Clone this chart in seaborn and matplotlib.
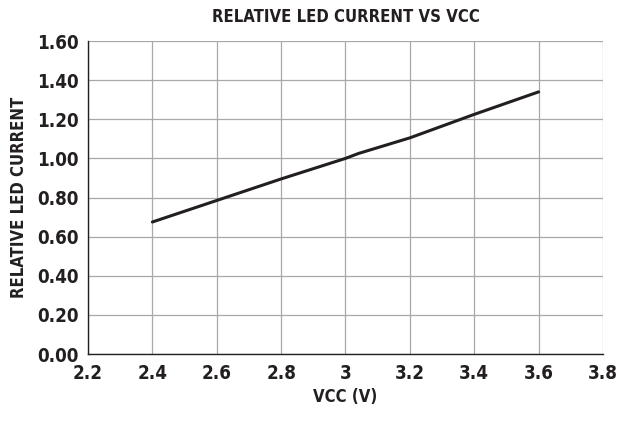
import matplotlib
matplotlib.use("Agg")
import matplotlib.pyplot as plt
import seaborn as sns
import pandas as pd

# values
vcc = [2.4, 2.6, 2.8, 3.0, 3.04, 3.08, 3.2, 3.4, 3.6]
rel_current = [0.675, 0.785, 0.895, 1.0, 1.025, 1.045, 1.105, 1.225, 1.34]
x_ticks = [2.2, 2.4, 2.6, 2.8, 3.0, 3.2, 3.4, 3.6, 3.8]
x_labels = ["2.2", "2.4", "2.6", "2.8", "3", "3.2", "3.4", "3.6", "3.8"]
y_ticks = [0.0, 0.2, 0.4, 0.6, 0.8, 1.0, 1.2, 1.4, 1.6]

sns.set_style("white")
plt.rcParams['font.family'] = ['DejaVu Sans']
plt.rcParams['font.stretch'] = 'condensed'
plt.rcParams['font.weight'] = 'bold'
plt.rcParams['text.color'] = '#231f20'
plt.rcParams['axes.labelcolor'] = '#231f20'
plt.rcParams['xtick.color'] = '#231f20'
plt.rcParams['ytick.color'] = '#231f20'

df = pd.DataFrame({"vcc": vcc, "cur": rel_current})

fig, ax = plt.subplots(figsize=(6.21, 4.21), dpi=100)
sns.lineplot(data=df, x="vcc", y="cur", color="#231f20", linewidth=2.2, ax=ax)

ax.set_xlim(2.2, 3.8)
ax.set_ylim(0, 1.6)
ax.set_xticks(x_ticks)
ax.set_xticklabels(x_labels)
ax.set_yticks(y_ticks)
ax.set_yticklabels(["%.2f" % v for v in y_ticks])
ax.grid(True, color="#a8a8a8", linewidth=0.9)
ax.set_axisbelow(True)
for s in ["top", "right"]:
    ax.spines[s].set_visible(False)
for s in ["left", "bottom"]:
    ax.spines[s].set_color("#231f20")
    ax.spines[s].set_linewidth(1.0)
ax.tick_params(axis="both", length=4, width=1, labelsize=13.5, pad=3)

ax.set_title("RELATIVE LED CURRENT VS VCC", fontsize=12, fontweight="bold", pad=14)
ax.set_xlabel("VCC (V)", fontsize=12, fontweight="bold", labelpad=4)
ax.set_ylabel("RELATIVE LED CURRENT", fontsize=12, fontweight="bold", labelpad=6)

fig.subplots_adjust(left=0.1417, right=0.971, top=0.9026, bottom=0.159)
fig.savefig("out.png", dpi=100)
